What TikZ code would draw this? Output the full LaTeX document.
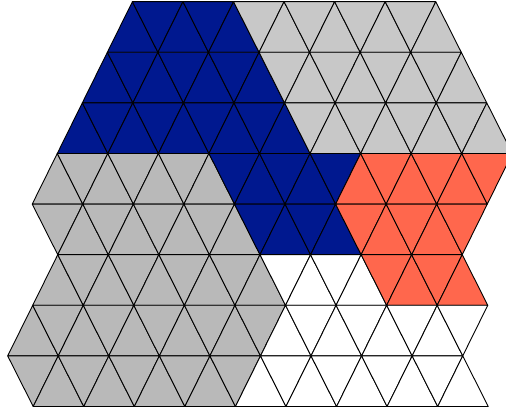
\documentclass[tikz,border=0pt]{standalone}
\usepackage{tikz}
\definecolor{blueC}{RGB}{0,24,143}
\definecolor{grayA}{RGB}{200,200,200}
\definecolor{grayB}{RGB}{185,185,185}
\definecolor{orangeC}{RGB}{255,103,77}
\definecolor{whiteC}{RGB}{255,255,255}
% lattice point: #1 = half-column index s, #2 = row line k
\def\P#1#2{({132.4+0.24*(#2)+25.28*(#1)},{-(1.7+50.6*(#2))})}
\newcommand\tri[3]{%
  \pgfmathtruncatemacro\tpar{mod(#2-#1+100,2)}%
  \ifnum\tpar=0
    \filldraw[tile,fill=#3] \P{#2}{#1} -- \P{#2-1}{#1+1} -- \P{#2+1}{#1+1} -- cycle;
  \else
    \filldraw[tile,fill=#3] \P{#2-1}{#1} -- \P{#2+1}{#1} -- \P{#2}{#1+1} -- cycle;
  \fi}
\newcommand\trirow[4]{% row, from, to, colour
  \foreach \aa in {#2,...,#3} {\tri{#1}{\aa}{#4}}}
\begin{document}
\begin{tikzpicture}[x=1pt,y=1pt,
  tile/.style={draw=black,line width=0.9pt,line join=round}]
\useasboundingbox (0,0) rectangle (506,-411);
\clip (0,0) rectangle (506,-411);
% row 0
\trirow{0}{0}{4}{blueC}
\trirow{0}{5}{12}{grayA}
% row 1
\trirow{1}{-1}{5}{blueC}
\trirow{1}{6}{13}{grayA}
% row 2
\trirow{2}{-2}{6}{blueC}
\trirow{2}{7}{14}{grayA}
% row 3
\trirow{3}{-3}{3}{grayB}
\trirow{3}{4}{8}{blueC}
\trirow{3}{9}{14}{orangeC}
% row 4
\trirow{4}{-3}{4}{grayB}
\trirow{4}{5}{8}{blueC}
\trirow{4}{9}{13}{orangeC}
% row 5
\trirow{5}{-3}{5}{grayB}
\trirow{5}{6}{9}{whiteC}
\trirow{5}{10}{13}{orangeC}
% row 6
\trirow{6}{-4}{5}{grayB}
\trirow{6}{6}{13}{whiteC}
% row 7
\trirow{7}{-4}{4}{grayB}
\trirow{7}{5}{13}{whiteC}
\end{tikzpicture}
\end{document}
